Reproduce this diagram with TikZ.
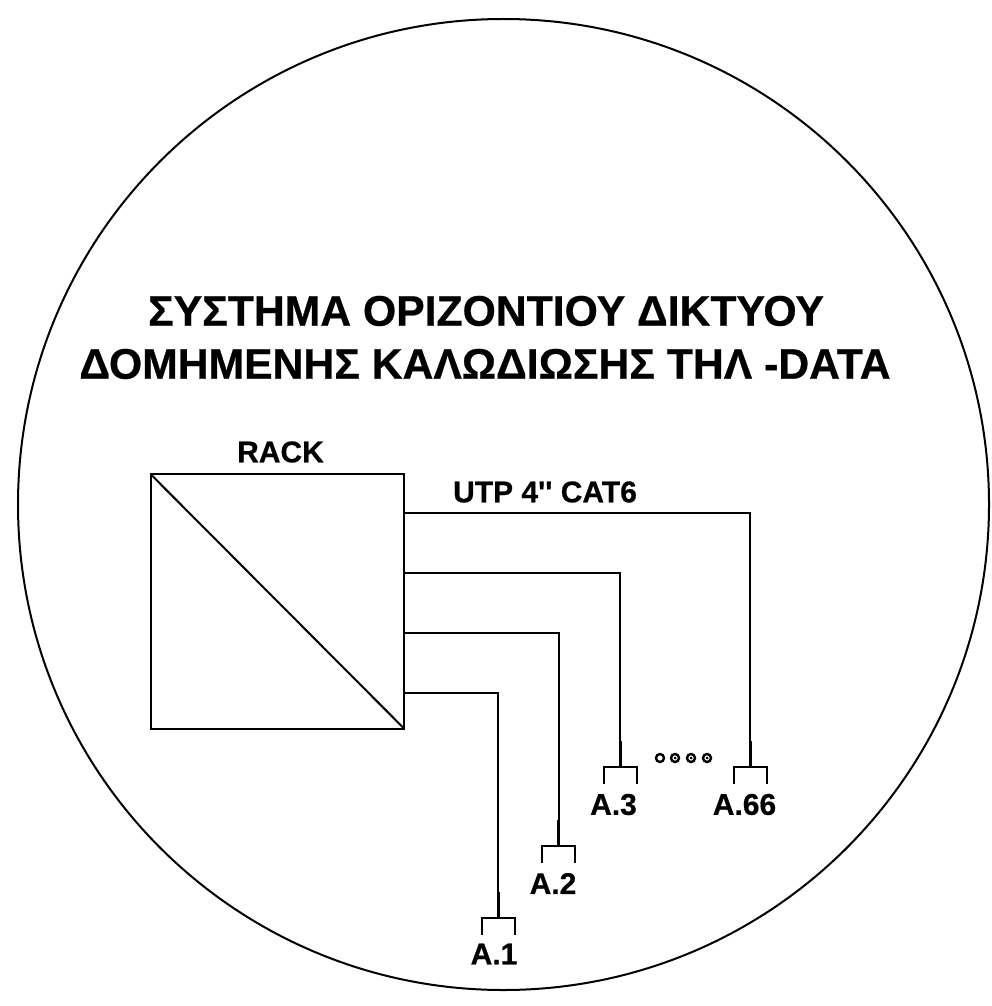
\documentclass[tikz,border=0pt]{standalone}
\usepackage{fontspec}
\setmainfont{Liberation Sans}[Ligatures=TeXOff,BoldFeatures={FakeBold=0.6}]
\usetikzlibrary{calc}
\tikzset{
  x=1pt,y=-1pt,
  thin line/.style={line width=2pt,black},
  thick stub/.style={line width=3pt,black},
  lbl/.style={inner sep=0pt,font=\bfseries\fontsize{30}{30}\selectfont,text=black},
  title/.style={inner sep=0pt,font=\bfseries\fontsize{42.7}{42.7}\selectfont,text=black},
  dotc/.style={circle,draw=black,line width=2.4pt,minimum size=8pt,inner sep=0pt},
}
\newcommand{\outlet}[3]{% name, x, y of bar
  \coordinate (#1top) at (#2,#3-26);
  \coordinate (#1bar) at (#2,#3);
  \coordinate (#1l) at (#2-16.5,#3);
  \coordinate (#1r) at (#2+16.5,#3);
  \draw[thick stub] (#1top) -- (#1bar);
  \draw[thin line] ($(#1l)+(0,17)$) -- (#1l) -- (#1r) -- ($(#1r)+(0,17)$);
}
\begin{document}
\begin{tikzpicture}
\useasboundingbox (0,0) rectangle (992,1006);
\fill[white] (0,0) rectangle (992,1006);
\node[circle,draw=black,line width=2pt,minimum size=971pt,inner sep=0pt,outer sep=0pt] (border) at (503.5,504.5) {};
\node[title] (t1) at (486,311) {ΣΥΣΤΗΜΑ ΟΡΙΖΟΝΤΙΟΥ ΔΙΚΤΥΟΥ};
\node[title] (t2) at (485,364) {ΔΟΜΗΜΕΝΗΣ ΚΑΛΩΔΙΩΣΗΣ ΤΗΛ -DATA};
\node[lbl] (racklbl) at (280.5,452) {RACK};
\node[draw=black,line width=2.2pt,minimum width=253.6pt,minimum height=254.5pt,inner sep=0pt,outer sep=0pt] (rack) at (277.5,601.5) {};
\draw[thin line] (rack.north west) -- (rack.south east);
\node[lbl] (utp) at (545,492) {UTP 4'' CAT6};
\outlet{a}{498}{918}
\outlet{b}{558.5}{846}
\outlet{c}{620}{767}
\outlet{d}{750}{767}
\draw[thin line] (rack.east |- 0,693) -- (498,693) -- (atop);
\draw[thin line] (rack.east |- 0,633) -- (558.5,633) -- (btop);
\draw[thin line] (rack.east |- 0,573) -- (620,573) -- (ctop);
\draw[thin line] (rack.east |- 0,513) -- (750,513) -- (dtop);
\node[lbl] (l1) at (494,954) {A.1};
\node[lbl] (l2) at (553,883.5) {A.2};
\node[lbl] (l3) at (613.5,804.5) {A.3};
\node[lbl] (l4) at (744.5,804.5) {A.66};
\node[dotc] (d1) at (660,758) {};
\node[dotc] (d2) at (675,758) {};
\node[dotc] (d3) at (691,758) {};
\node[dotc] (d4) at (707,758) {};
\fill (d2.center) circle (1.5pt) (d3.center) circle (1.5pt) (d4.center) circle (1.5pt);
\end{tikzpicture}
\end{document}
